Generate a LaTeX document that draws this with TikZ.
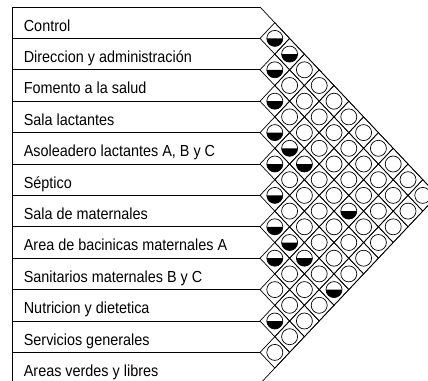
\documentclass[tikz,border=0pt]{standalone}
\usepackage{fontspec}
\newfontfamily\labfont[FakeStretch=0.9]{Liberation Sans}
\begin{document}
\begin{tikzpicture}[x=1pt,y=-1pt,line width=0.7pt,
  rowlabel/.style={anchor=base west,inner sep=0pt,font=\labfont\fontsize{16}{19}\selectfont},
  cellline/.style={draw,line width=0.7pt},
  ring/.style={circle,draw,line width=0.7pt,minimum size=16pt,inner sep=0pt}]
\def\H{31.4}
\def\W{14.8}
\def\XR{260}
\def\YT{7}
\useasboundingbox (0,0) rectangle (428,380);
\begin{scope}
\clip (0,0) rectangle (428,380);
% left frame and row separators
\draw (12,\YT) -- (12,390);
\foreach \k in {0,...,12} \draw (12,{\YT+\k*\H}) -- (\XR,{\YT+\k*\H});
% outer boundary of the matrix
\draw (\XR,\YT) -- ({\XR+12*\W},{\YT+6*\H}) -- (\XR,{\YT+12*\H});
% cells
\foreach \i in {0,...,10} {
  \pgfmathtruncatemacro\js{\i+1}
  \foreach \j in {\js,...,11} {
    \pgfmathsetmacro\cx{\XR+(\j-\i)*\W}
    \pgfmathsetmacro\cy{\YT+\H*((\i+\j)/2+0.5)}
    \path[cellline] ({\cx-\W},\cy) -- (\cx,{\cy-\H/2}) -- ({\cx+\W},\cy) -- (\cx,{\cy+\H/2}) -- cycle;
    \node[ring] (c\i-\j) at (\cx,\cy) {};
  }
}
% half-filled relations
\foreach \a/\b in {0/1,0/2,1/2,2/3,3/4,3/5,4/5,3/6,5/6,3/9,6/7,6/8,7/8,6/9,6/11,9/10}
  \fill (c\a-\b.center) ++(8,0) arc (0:180:8) -- cycle;
% labels
\foreach \t [count=\n from 0] in {Control,Direccion y administración,Fomento a la salud,Sala lactantes,{Asoleadero lactantes A, B y C},Séptico,Sala de maternales,Area de bacinicas maternales A,Sanitarios maternales B y C,Nutricion y dietetica,Servicios generales,Areas verdes y libres}
  \node[rowlabel] (r\n) at (23.5,{31+\n*\H}) {\t};
\end{scope}
\end{tikzpicture}
\end{document}
